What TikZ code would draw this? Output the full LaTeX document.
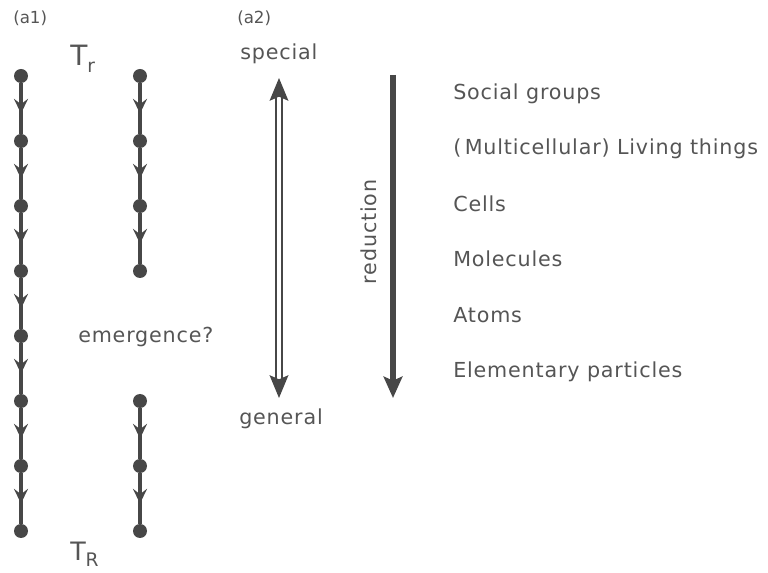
\documentclass[tikz,border=0pt]{standalone}
\usepackage{fontspec}
\setmainfont{DejaVu Sans}
\newfontfamily\widefont[LetterSpace=4]{DejaVu Sans}
\usetikzlibrary{arrows.meta,decorations.markings}
\definecolor{ink}{HTML}{474747}
\definecolor{txt}{HTML}{555555}
\tikzset{
  dot/.style={circle,fill=ink,inner sep=0pt,minimum size=10.5pt},
  chain/.style={draw=ink,line width=2.8pt,
    postaction={decorate},
    decoration={markings,mark=at position 0.6 with {\arrow{Stealth[length=11pt,width=10.5pt,inset=4pt]}}}},
  lbl/.style={anchor=base west,text=txt,inner sep=0pt,font=\widefont\fontsize{15.5pt}{18pt}\selectfont},
  small/.style={anchor=base west,text=txt,inner sep=0pt,font=\fontsize{12.5pt}{14pt}\selectfont},
}
\begin{document}
\begin{tikzpicture}[x=0.75pt,y=-0.75pt]
\useasboundingbox (0,0) rectangle (768,573);
% left chain
\foreach \i in {0,...,7}{
  \node[dot] (L\i) at (21,{76+65*\i}) {};
}
\foreach \i [evaluate=\i as \j using int(\i+1)] in {0,...,6}{
  \draw[chain] (L\i) -- (L\j);
}
% right chain (upper)
\foreach \i in {0,...,3}{
  \node[dot] (R\i) at (140,{76+65*\i}) {};
}
\foreach \i [evaluate=\i as \j using int(\i+1)] in {0,...,2}{
  \draw[chain] (R\i) -- (R\j);
}
% right chain (lower)
\foreach \i in {5,6,7}{
  \node[dot] (R\i) at (140,{76+65*\i}) {};
}
\draw[chain] (R5) -- (R6);
\draw[chain] (R6) -- (R7);
% panel labels
\node[small] (a1) at (13,24) {(a1)};
\node[small] (a2) at (237,24) {(a2)};
\node[anchor=base west,text=txt,inner sep=0pt,font=\fontsize{21pt}{24pt}\selectfont] (Tr) at (70,66) {T\raisebox{-0.25em}{\fontsize{14pt}{16pt}\selectfont r}};
\node[anchor=base west,text=txt,inner sep=0pt,font=\fontsize{19pt}{22pt}\selectfont] (TR) at (70,561) {T\raisebox{-0.22em}{\fontsize{14pt}{16pt}\selectfont R}};
\node[lbl] (em) at (78,343) {emergence?};
% special/general
\node[lbl] (sp) at (240,60) {special};
\node[lbl] (ge) at (239,425) {general};
\coordinate (dtop) at (279,78);
\coordinate (dbot) at (279,398);
\draw[draw=ink,line width=1.7pt,double=white,double distance=3pt,
  {Stealth[length=17pt,width=14pt,inset=3pt]}-{Stealth[length=17pt,width=14pt,inset=3pt]}] (dtop) -- (dbot);
% reduction
\coordinate (rtop) at (393,75);
\coordinate (rbot) at (393,398);
\draw[draw=ink,line width=4pt,-{Stealth[length=16pt,width=14pt,inset=3pt]}] (rtop) -- (rbot);
\node[text=txt,rotate=90,inner sep=0pt,font=\widefont\fontsize{15.5pt}{18pt}\selectfont] (red) at (369,232) {reduction};
% levels
\node[lbl] (l1) at (453,100) {Social groups};
\node[lbl] (l2) at (453,155) {(\,Multicellular) Living things};
\node[lbl] (l3) at (453,212) {Cells};
\node[lbl] (l4) at (453,267) {Molecules};
\node[lbl] (l5) at (453,323) {Atoms};
\node[lbl] (l6) at (453,378) {Elementary particles};
\end{tikzpicture}
\end{document}
